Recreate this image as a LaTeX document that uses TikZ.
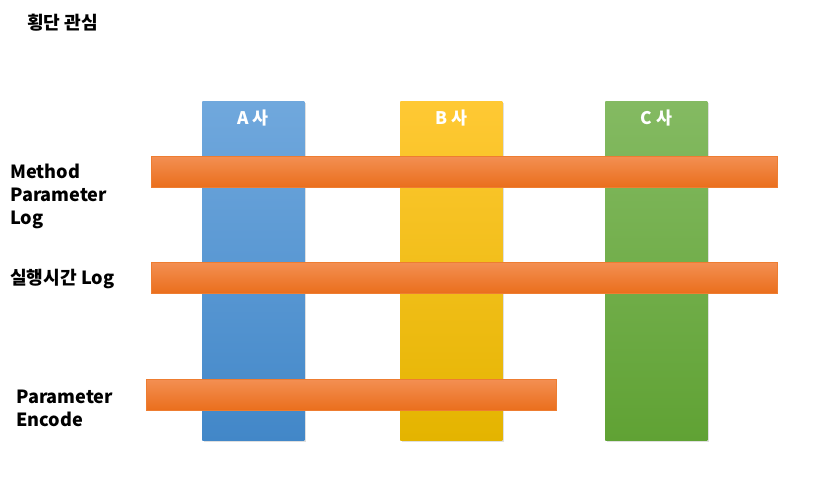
\documentclass[tikz,border=0pt]{standalone}
\usepackage{fontspec}
\setmainfont{Noto Sans CJK KR}
\usetikzlibrary{positioning, shadows}
\definecolor{bluetop}{RGB}{112,168,221}
\definecolor{bluebottom}{RGB}{66,135,200}
\definecolor{yellowtop}{RGB}{255,201,52}
\definecolor{yellowbottom}{RGB}{228,180,0}
\definecolor{greentop}{RGB}{132,186,98}
\definecolor{greenbottom}{RGB}{96,162,52}
\definecolor{orangetop}{RGB}{243,143,82}
\definecolor{orangebottom}{RGB}{234,110,28}
\definecolor{orangeborder}{RGB}{238,125,49}
\tikzset{
  company/.style={
    rectangle, anchor=north west,
    minimum width=76.5pt, minimum height=254.25pt,
    inner sep=0pt, draw=none,
    drop shadow={shadow xshift=1pt, shadow yshift=-1.5pt, opacity=0.25}},
  bluecol/.style={company, top color=bluetop, bottom color=bluebottom},
  yellowcol/.style={company, top color=yellowtop, bottom color=yellowbottom},
  greencol/.style={company, top color=greentop, bottom color=greenbottom},
  collabel/.style={font=\bfseries\fontsize{13}{15}\selectfont,
    text=white, inner sep=0pt},
  concern/.style={
    rectangle, anchor=north west,
    minimum height=23.25pt, inner sep=0pt,
    top color=orangetop, bottom color=orangebottom,
    draw=orangeborder, line width=0.6pt},
  sidelabel/.style={font=\bfseries\fontsize{13.6}{17.25}\selectfont,
    align=left, anchor=west, inner sep=0pt}
}
\begin{document}
\begin{tikzpicture}[x=0.75pt, y=-0.75pt]
  \useasboundingbox (0,0) rectangle (829,484);

  %% title
  \node[sidelabel] (title) at (27,23) {횡단 관심};

  %% columns: companies
  \node[bluecol] (acol) at (202,101) {};
  \node[yellowcol] (bcol) at (400,101) {};
  \node[greencol] (ccol) at (605,101) {};

  \node[collabel, below=6.5pt of acol.north] (alabel) {A 사};
  \node[collabel, below=6.5pt of bcol.north] (blabel) {B 사};
  \node[collabel, below=6.5pt of ccol.north] (clabel) {C 사};

  %% rows: cross-cutting concerns
  \node[concern, minimum width=469.5pt] (logbar) at (151,156) {};
  \node[concern, minimum width=469.5pt] (timebar) at (151,262) {};
  \node[concern, minimum width=307.5pt] (encbar) at (146,379) {};

  %% row labels
  \node[sidelabel] (loglabel) at (10,196.5) {Method\\Parameter\\Log};
  \node[sidelabel] (timelabel) at (10,279) {실행시간 Log};
  \node[sidelabel] (enclabel) at (16,408) {Parameter\\Encode};

\end{tikzpicture}
\end{document}
